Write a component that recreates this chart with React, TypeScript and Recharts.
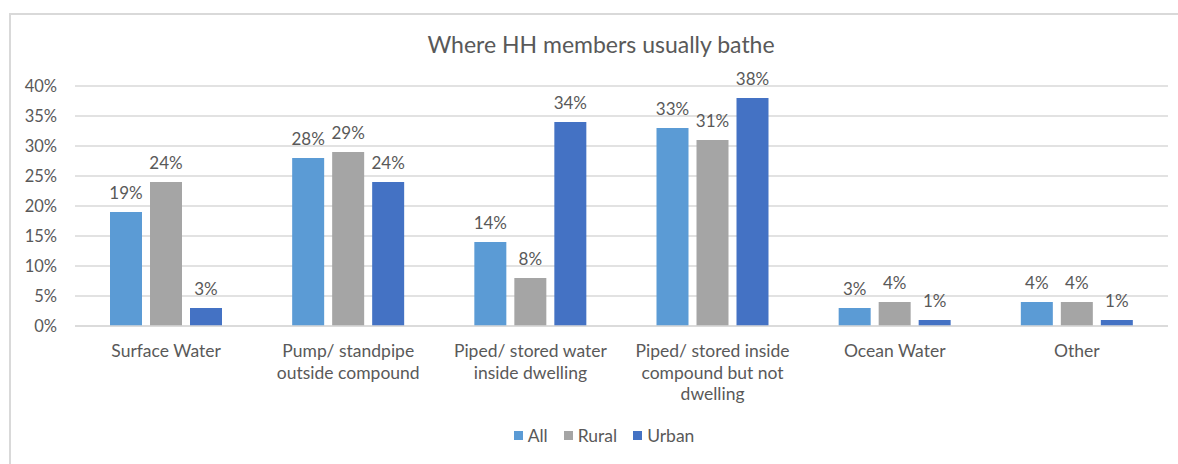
import { BarChart, Bar, XAxis, YAxis, CartesianGrid, Legend, LabelList } from "recharts";

const categories = [
  "Surface Water",
  "Pump/ standpipe\noutside compound",
  "Piped/ stored water\ninside dwelling",
  "Piped/ stored inside\ncompound but not\ndwelling",
  "Ocean Water",
  "Other",
];
const allValues = [19, 28, 14, 33, 3, 4];
const ruralValues = [24, 29, 8, 31, 4, 4];
const urbanValues = [3, 24, 34, 38, 1, 1];
const yTicks = [0, 5, 10, 15, 20, 25, 30, 35, 40];

const data = categories.map((name, i) => ({
  name,
  All: allValues[i],
  Rural: ruralValues[i],
  Urban: urbanValues[i],
}));

const FONT = "Lato, 'Noto Sans', sans-serif";
const TEXT = "#595959";

function CategoryTick({ x, y, payload }: any) {
  const lines = String(payload.value).split("\n");
  return (
    <text x={x} y={y} textAnchor="middle" fill={TEXT} fontSize={17.5} fontFamily={FONT}>
      {lines.map((l, i) => (
        <tspan key={i} x={x} dy={i === 0 ? 23 : 21.5}>
          {l}
        </tspan>
      ))}
    </text>
  );
}

function LegendContent({ payload }: any) {
  return (
    <div style={{ display: "flex", justifyContent: "center", gap: 16, fontFamily: FONT, fontSize: 17.5, color: TEXT }}>
      {payload.map((p: any) => (
        <span key={p.value} style={{ display: "flex", alignItems: "center", gap: 5 }}>
          <span style={{ width: 9, height: 9, background: p.color, display: "inline-block" }} />
          {p.value}
        </span>
      ))}
    </div>
  );
}

const labelProps = {
  position: "top" as const,
  offset: 13,
  formatter: (v: any) => `${v}%`,
  fill: TEXT,
  fontSize: 17,
  fontFamily: FONT,
};

export default function App() {
  return (
    <div style={{ position: "absolute", left: 0, top: 0, width: 1178, height: 464, background: "#fff", overflow: "hidden" }}>
      <div
        style={{
          position: "absolute",
          left: 9,
          top: 13,
          width: 1200,
          height: 500,
          borderLeft: "2px solid #d9d9d9",
          borderTop: "2px solid #d9d9d9",
        }}
      />
      <div
        style={{
          position: "absolute",
          left: 0,
          width: 1202,
          top: 30,
          textAlign: "center",
          fontFamily: FONT,
          fontSize: 23,
          color: TEXT,
        }}
      >
        Where HH members usually bathe
      </div>
      <div style={{ position: "absolute", left: 0, top: 0 }}>
        <BarChart
          width={1178}
          height={464}
          data={data}
          margin={{ top: 86, right: 10, left: 0, bottom: 48 }}
          barSize={32}
          barGap={8}
        >
          <CartesianGrid vertical={false} stroke="#d9d9d9" strokeWidth={1.5} />
          <XAxis
            dataKey="name"
            interval={0}
            tick={<CategoryTick />}
            tickLine={false}
            axisLine={{ stroke: "#d9d9d9", strokeWidth: 1.5 }}
            height={90}
          />
          <YAxis
            width={75}
            domain={[0, 40]}
            ticks={yTicks}
            tickFormatter={(v) => `${v}%`}
            tick={{ fill: TEXT, fontSize: 16.5, fontFamily: FONT }}
            tickLine={false}
            axisLine={false}
            tickMargin={12}
          />
          <Legend
            verticalAlign="middle"
            align="center"
            wrapperStyle={{ top: 425, left: 10, width: 1188 }}
            content={<LegendContent />}
          />
          <Bar dataKey="All" fill="#5B9BD5" isAnimationActive={false}>
            <LabelList dataKey="All" {...labelProps} />
          </Bar>
          <Bar dataKey="Rural" fill="#A5A5A5" isAnimationActive={false}>
            <LabelList dataKey="Rural" {...labelProps} />
          </Bar>
          <Bar dataKey="Urban" fill="#4472C4" isAnimationActive={false}>
            <LabelList dataKey="Urban" {...labelProps} />
          </Bar>
        </BarChart>
      </div>
    </div>
  );
}
